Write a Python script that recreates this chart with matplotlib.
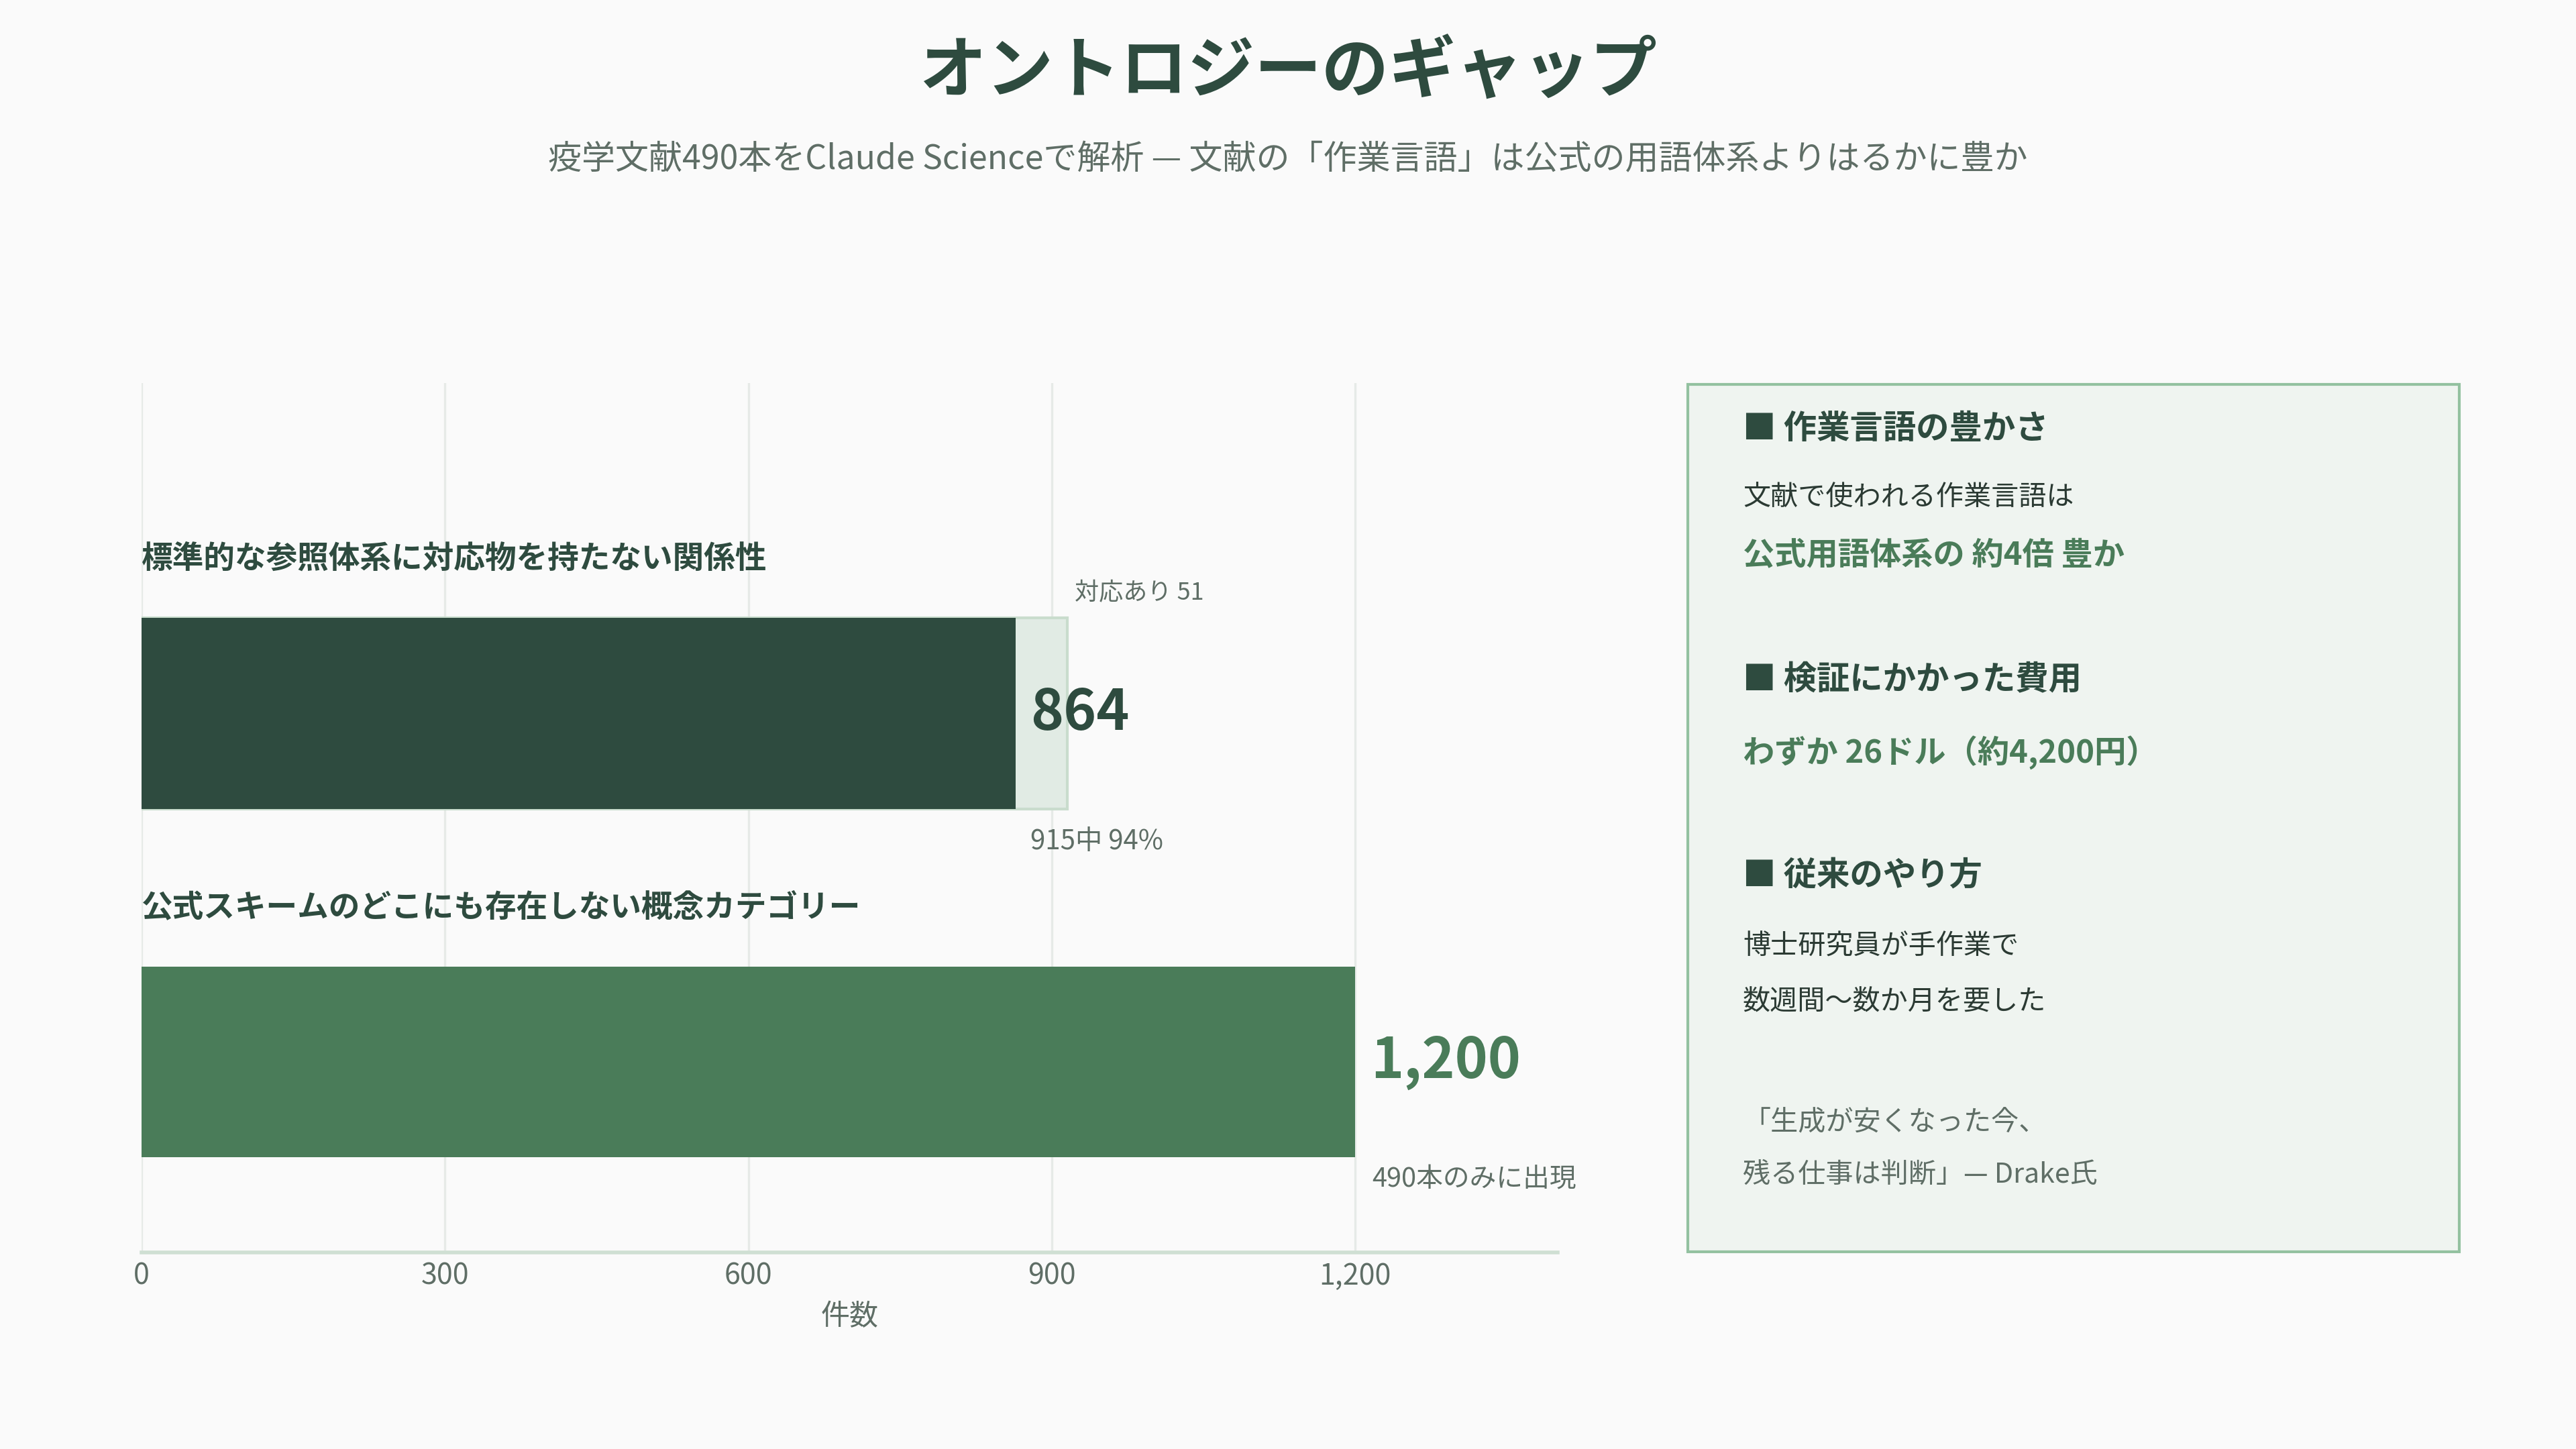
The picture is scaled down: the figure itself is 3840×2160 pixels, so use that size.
import matplotlib
matplotlib.use("Agg")
import matplotlib.pyplot as plt
from matplotlib.patches import Rectangle

plt.rcParams['font.family'] = ['Noto Sans CJK JP', 'DejaVu Sans']

# data
categories = ["公式スキームのどこにも存在しない概念カテゴリー",
              "標準的な参照体系に対応物を持たない関係性"]
unmatched = [1200, 864]
matched = [0, 51]
totals = [1200, 915]
value_labels = ["1,200", "864"]
notes_below = ["490本のみに出現", "915中 94%"]
note_above = "対応あり 51"
xticks = [0, 300, 600, 900, 1200]
xtick_labels = ["0", "300", "600", "900", "1,200"]

DARK = "#2e4b3f"
MID = "#4a7c59"
LIGHT = "#e1ebe4"
GRAY = "#5f6e66"
BG = "#fafafa"

W, H = 3840, 2160
fig = plt.figure(figsize=(19.2, 10.8), dpi=200, facecolor=BG)


def fx(px):
    return px / W


def fy(py):
    return 1 - py / H


fig.text(0.5, fy(108), "オントロジーのギャップ", ha="center", va="center",
         fontsize=36, fontweight="bold", color=DARK)
fig.text(0.5, fy(238), "疫学文献490本をClaude Scienceで解析 — 文献の「作業言語」は公式の用語体系よりはるかに豊か",
         ha="center", va="center", fontsize=18, color=GRAY)

ax = fig.add_axes([fx(211), fy(1867), fx(2322) - fx(211), fy(571) - fy(1867)])
ax.set_facecolor(BG)
ypos = [0, 1]
bh = 0.548
colors = [MID, DARK]

# light background bar for total (matched part)
ax.barh(ypos[1], totals[1], height=bh, color=LIGHT, edgecolor="#c9dccd", linewidth=1.5, zorder=2)
ax.barh(ypos, unmatched, height=bh, color=colors, zorder=3)

for y, v, lab, c in zip(ypos, unmatched, value_labels, colors):
    ax.annotate(lab, (v, y), xytext=(8, 0), textcoords="offset points",
                ha="left", va="center", fontsize=30, fontweight="bold", color=c, zorder=5)

ax.annotate(note_above, (totals[1], ypos[1] + 0.345), xytext=(4, 0), textcoords="offset points",
            ha="left", va="center", fontsize=13, color=GRAY)
ax.annotate(notes_below[1], (unmatched[1], ypos[1] - 0.368), xytext=(8, 0), textcoords="offset points",
            ha="left", va="center", fontsize=14.5, color=GRAY)
ax.annotate(notes_below[0], (unmatched[0], ypos[0] - 0.339), xytext=(9, 0), textcoords="offset points",
            ha="left", va="center", fontsize=14.3, color=GRAY)

for y, cat in zip(ypos, categories):
    ax.text(0, y + 0.444, cat, ha="left", va="center", fontsize=16.8,
            fontweight="bold", color=DARK)

ax.set_xlim(0, 1400)
ax.set_ylim(-0.547, 1.948)
ax.set_yticks([])
ax.set_xticks(xticks)
ax.set_xticklabels(xtick_labels)
ax.tick_params(axis="x", length=0, pad=5, labelsize=15.5, labelcolor=GRAY)
ax.grid(axis="x", color="#e6eae7", linewidth=1.2, zorder=0)
for s in ["top", "right", "left"]:
    ax.spines[s].set_visible(False)
ax.spines["bottom"].set_color("#cfdfd3")
ax.spines["bottom"].set_linewidth(2)
ax.set_xlabel("件数", fontsize=15.5, color=GRAY, labelpad=6)

# right-hand panel
panel = Rectangle((fx(2516), fy(1866)), fx(3666) - fx(2516), fy(573) - fy(1866),
                  transform=fig.transFigure, facecolor="#eff4f0", edgecolor="#93c1a0",
                  linewidth=1.5, zorder=0)
fig.patches.append(panel)

TX = fx(2598)
panel_lines = [
    (639, "■ 作業言語の豊かさ", 17.8, "bold", DARK),
    (742, "文献で使われる作業言語は", 14.8, "normal", "#2b3a33"),
    (828, "公式用語体系の 約4倍 豊か", 17, "bold", MID),
    (1014, "■ 検証にかかった費用", 17.8, "bold", DARK),
    (1122, "わずか 26ドル（約4,200円）", 17, "bold", MID),
    (1305, "■ 従来のやり方", 17.8, "bold", DARK),
    (1411, "博士研究員が手作業で", 14.8, "normal", "#2b3a33"),
    (1494, "数週間〜数か月を要した", 14.8, "normal", "#2b3a33"),
    (1673, "「生成が安くなった今、", 14.8, "normal", GRAY),
    (1751, "残る仕事は判断」— Drake氏", 14.8, "normal", GRAY),
]
for py, txt, size, weight, col in panel_lines:
    fig.text(TX, fy(py), txt, ha="left", va="center", fontsize=size,
             fontweight=weight, color=col)

fig.savefig("out.png", dpi=200, facecolor=BG)
